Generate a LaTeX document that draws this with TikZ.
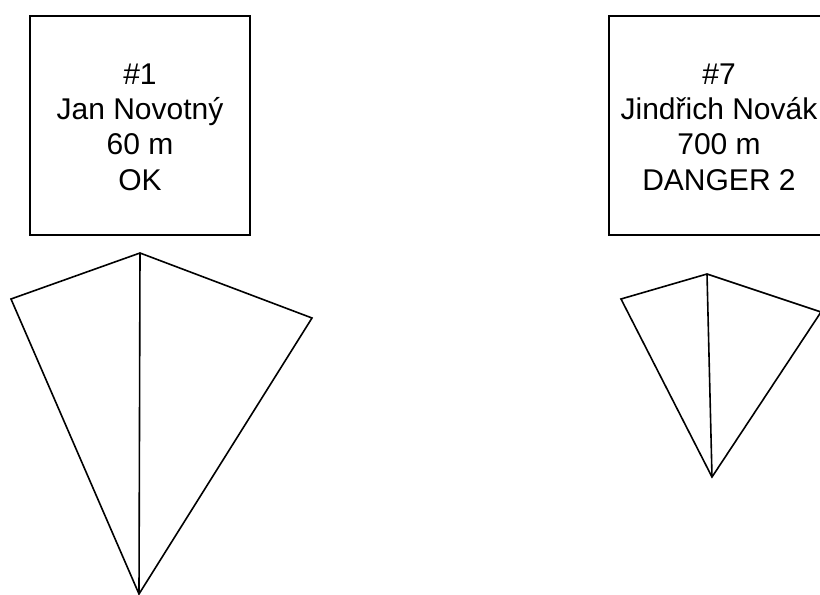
\documentclass[tikz,border=0pt]{standalone}
\usepackage{fontspec}
\setmainfont{Liberation Sans}
\begin{document}
\begin{tikzpicture}[x=0.75pt,y=-0.75pt,
  frame/.style={draw=black,line width=1.2pt},
  kiteline/.style={draw=black,line width=1.2pt,line join=miter},
  label/.style={align=center,font=\fontsize{22.5}{26.5}\selectfont,inner sep=0pt}]
  \useasboundingbox (0,0) rectangle (820,595);
  \clip (0,0) rectangle (820,595);

  % info cards
  \draw[frame] (30,16) rectangle (250,235);
  \node[label] (card1) at (140,127) {\#1\\Jan Novotný\\60 m\\OK};
  \draw[frame] (609,16) rectangle (829,235);
  \node[label] (card7) at (719,127) {\#7\\Jindřich Novák\\700 m\\DANGER 2};

  % first kite
  \coordinate (k1t) at (140,253);
  \coordinate (k1l) at (11,299);
  \coordinate (k1b) at (139,594);
  \coordinate (k1r) at (312,318);
  \draw[kiteline] (k1t) -- (k1l) -- (k1b) -- (k1r) -- cycle;
  \draw[kiteline] (k1t) -- (k1b);

  % second kite
  \coordinate (k2t) at (707,274);
  \coordinate (k2l) at (621,299);
  \coordinate (k2b) at (712,477);
  \coordinate (k2r) at (821,312);
  \draw[kiteline] (k2t) -- (k2l) -- (k2b) -- (k2r) -- cycle;
  \draw[kiteline] (k2t) -- (k2b);
\end{tikzpicture}
\end{document}
